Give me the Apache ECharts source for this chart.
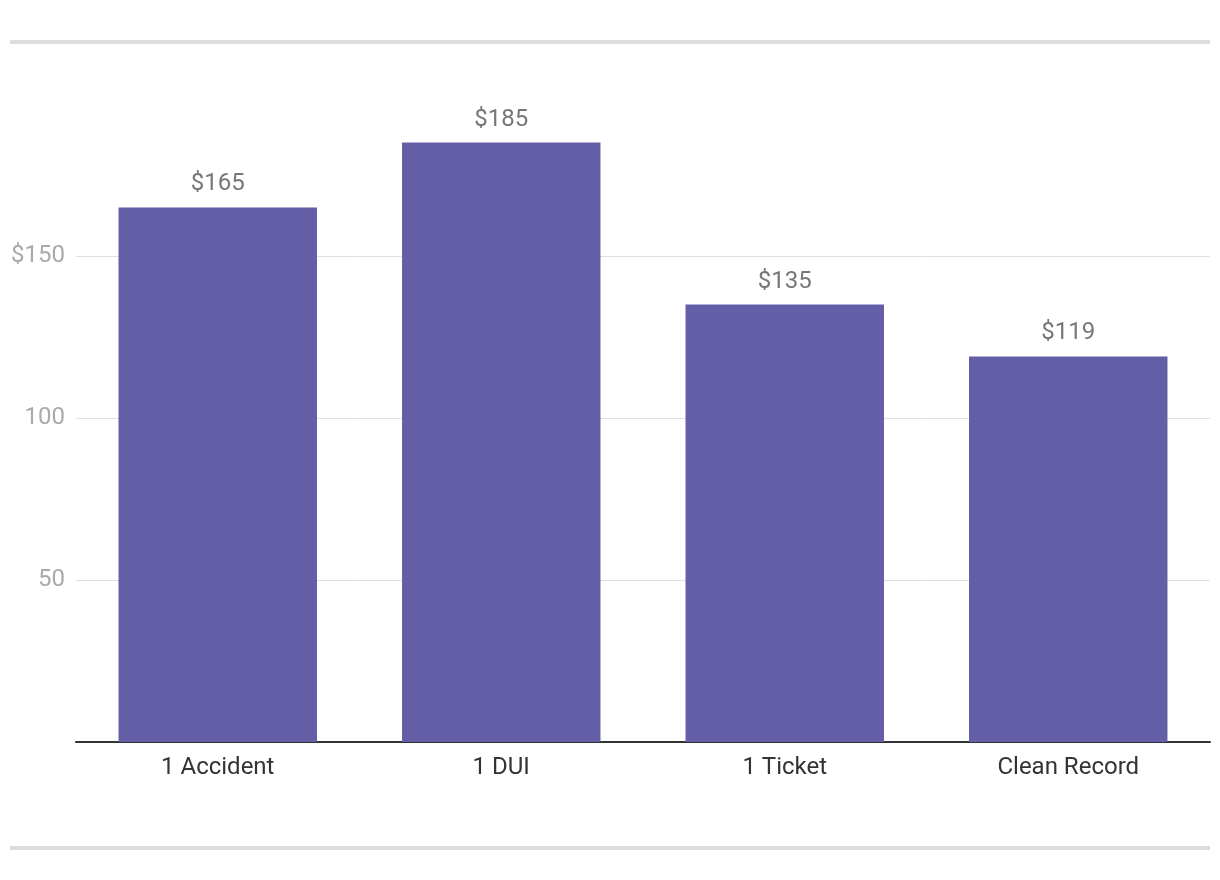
<!DOCTYPE html>
<html>
<head>
<meta charset="utf-8">
<script src="https://cdn.jsdelivr.net/npm/echarts@6/dist/echarts.min.js"></script>
<style>
html,body{margin:0;padding:0;background:#fff;}
#chart{width:1220px;height:880px;}
</style>
</head>
<body>
<div id="chart"></div>
<script>
const categories = ['1 Accident', '1 DUI', '1 Ticket', 'Clean Record'];
const values = [165, 185, 135, 119];
const yTicks = [0, 50, 100, 150, 200];

const chart = echarts.init(document.getElementById('chart'), null, {renderer: 'canvas'});
chart.setOption({
  animation: false,
  backgroundColor: '#ffffff',
  textStyle: {fontFamily: 'Roboto'},
  graphic: [
    {type: 'rect', shape: {x: 10, y: 40, width: 1200, height: 4}, style: {fill: '#dddddd'}},
    {type: 'rect', shape: {x: 10, y: 846, width: 1200, height: 4}, style: {fill: '#dddddd'}}
  ],
  grid: {left: 76, right: 10, top: 94, bottom: 138, containLabel: false},
  xAxis: {
    type: 'category',
    data: categories,
    axisLine: {show: true, lineStyle: {color: '#333333', width: 2}},
    axisTick: {show: false},
    axisLabel: {color: '#333333', fontSize: 24, fontFamily: 'Roboto', margin: 14}
  },
  yAxis: {
    type: 'value',
    min: yTicks[0],
    max: yTicks[yTicks.length - 1],
    interval: 50,
    axisLine: {show: false},
    axisTick: {show: false},
    splitLine: {show: true, showMinLine: false, showMaxLine: false, lineStyle: {color: '#e0e0e0', width: 1}},
    axisLabel: {
      color: '#aaaaaa', fontSize: 24, fontFamily: 'Roboto', margin: 11,
      padding: [3, 0, 0, 0],
      showMinLabel: false, showMaxLabel: false,
      formatter: function (v) { return v === 150 ? '$' + v : String(v); }
    }
  },
  series: [{
    type: 'bar',
    data: values,
    barCategoryGap: '30%',
    itemStyle: {color: '#635ea6'},
    label: {
      show: true, position: 'top', distance: 11,
      color: '#777777', fontSize: 24, fontFamily: 'Roboto',
      formatter: function (p) { return '$' + p.value; }
    }
  }]
});
</script>
</body>
</html>
